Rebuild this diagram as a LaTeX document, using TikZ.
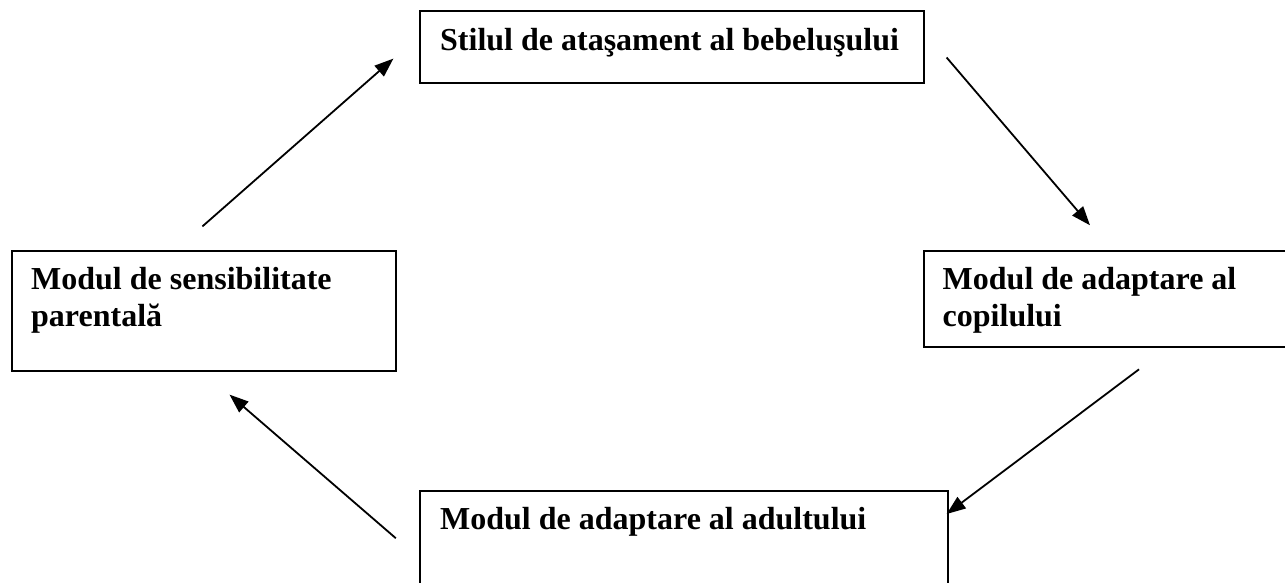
\documentclass[tikz,border=0pt]{standalone}
\usepackage{fontspec}
\setmainfont{Liberation Serif}
\usetikzlibrary{arrows.meta}
\tikzset{
  box/.style={draw=black, line width=2.2pt, anchor=north west, inner sep=0pt, fill=none},
  lbl/.style={anchor=base west, inner sep=0pt, font=\fontsize{32}{36.8}\selectfont\bfseries},
  conn/.style={line width=1.8pt, -{Triangle[length=19pt,width=14pt]}}
}
\begin{document}
\begin{tikzpicture}[x=1pt,y=-1pt]
\useasboundingbox (0,0) rectangle (1285,582);
\begin{scope}
\clip (0,0) rectangle (1285,582);
\node[box, minimum width=504pt, minimum height=72pt] (topbox) at (419,10) {};
\node[box, minimum width=384pt, minimum height=120pt] (leftbox) at (11,250) {};
\node[box, minimum width=400pt, minimum height=96pt] (rightbox) at (923,250) {};
\node[box, minimum width=528pt, minimum height=120pt] (botbox) at (419,490) {};
\end{scope}
\node[lbl] (toptext) at (440,50) {Stilul de ataşament al bebeluşului};
\node[lbl] (lefttext1) at (31,289.5) {Modul de sensibilitate};
\node[lbl] (lefttext2) at (31,326.6) {parentală};
\node[lbl] (righttext1) at (942.5,289.5) {Modul de adaptare al};
\node[lbl] (righttext2) at (942.5,326.6) {copilului};
\node[lbl] (bottext) at (440,529) {Modul de adaptare al adultului};
\coordinate (a1s) at (202.4,226.4);
\coordinate (a1e) at (393.4,58.6);
\coordinate (a2s) at (946.6,57.5);
\coordinate (a2e) at (1090,225.3);
\coordinate (a3s) at (1139,369.3);
\coordinate (a3e) at (946.6,514);
\coordinate (a4s) at (395.8,538.2);
\coordinate (a4e) at (229.5,394.6);
\draw[conn] (a1s) -- (a1e);
\draw[conn] (a2s) -- (a2e);
\draw[conn] (a3s) -- (a3e);
\draw[conn] (a4s) -- (a4e);
\end{tikzpicture}
\end{document}
